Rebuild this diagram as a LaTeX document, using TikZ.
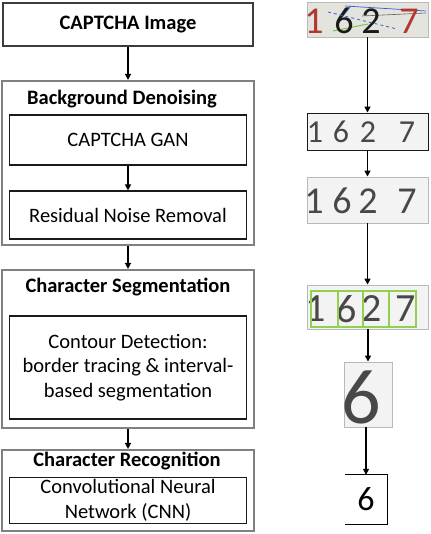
\documentclass[tikz,border=0pt]{standalone}
\usepackage{fontspec}
\setmainfont{Carlito}
\usetikzlibrary{arrows.meta,positioning}
\definecolor{ink}{HTML}{1A1A1A}
\definecolor{framegray}{HTML}{808080}
\definecolor{capbg}{HTML}{E4E4DE}
\definecolor{cleanbg}{HTML}{F3F3F3}
\definecolor{capred}{HTML}{B0382F}
\definecolor{noiseblue}{HTML}{3A5BD0}
\definecolor{noisegreen}{HTML}{7CC040}
\definecolor{segreen}{HTML}{92D050}
\tikzset{
  groupbox/.style={draw=framegray,line width=2.2pt,minimum width=252pt,inner sep=0pt},
  stagebox/.style={draw=ink!85,line width=1.6pt,minimum width=250pt,minimum height=43pt,
                   inner sep=0pt,font=\fontsize{20.5}{24.5}\selectfont\bfseries},
  stepbox/.style={draw=ink,line width=1.2pt,minimum width=237pt,align=center,
                  inner sep=2pt,font=\fontsize{20.5}{24.5}\selectfont},
  grouptitle/.style={inner sep=0pt,text height=14pt,text depth=4.5pt,
                     font=\fontsize{20.5}{24.5}\selectfont\bfseries},
  imgbox/.style={draw=gray!55,line width=0.9pt,fill=cleanbg,inner sep=0pt,minimum width=121pt},
  digit/.style={inner sep=0pt,text=ink!80},
  flowarr/.style={-{Triangle[length=6pt,width=6pt]},line width=1.8pt}
}

\begin{document}
\begin{tikzpicture}[x=1pt,y=-1pt]
  \useasboundingbox (0,0) rectangle (430,534);

  % left column: pipeline stages
  \node[stagebox] (img) at (128,24.5) {CAPTCHA Image};

  \node[groupbox,minimum height=164pt] (den) at (128,163) {};
  \node[grouptitle] (dentitle) at (122,100) {Background Denoising};
  \node[stepbox,minimum height=50pt] (gan) at (128,140) {CAPTCHA GAN};
  \node[stepbox,minimum height=48pt] (res) at (128,215) {Residual Noise Removal};

  \node[groupbox,minimum height=158pt] (seg) at (128,349) {};
  \node[grouptitle] (segtitle) at (128,288) {Character Segmentation};
  \node[stepbox,minimum height=103pt] (cont) at (128,367.5)
    {Contour Detection:\\border tracing \& interval-\\based segmentation};

  \node[groupbox,minimum height=81pt] (rec) at (128,490.5) {};
  \node[grouptitle] (rectitle) at (127,462) {Character Recognition};
  \node[stepbox,minimum height=45pt] (cnn) at (128,500.5)
    {Convolutional Neural\\Network (CNN)};

  \draw[flowarr] (img) -- (den);
  \draw[flowarr] (gan) -- (res);
  \draw[flowarr] (den) -- (seg);
  \draw[flowarr] (seg) -- (rec);

  % right column: example images
  \node[imgbox,fill=capbg,minimum height=35pt] (cap) at (367.5,19.5) {};
  \draw[noiseblue,line width=0.7pt] (345,6) -- (426,11);
  \draw[noiseblue,line width=0.7pt] (339,21) -- (351,6);
  \draw[ink!70,line width=0.6pt] (362,16) -- (426,13);
  \draw[noisegreen,line width=0.9pt] (333,31) -- (368,24);
  \foreach \d/\x/\c [count=\i] in {1/314/capred,6/344/ink,2/371/ink,7/409/capred}
    \node[digit,text=\c,font=\fontsize{38}{38}\selectfont] (cd\i) at (\x,21) {\d};
  \draw[noiseblue,line width=0.8pt,dashed] (328,12) -- (397,29);

  \node[imgbox,draw=ink,minimum height=37pt] (dn1) at (367.5,131.5) {};
  \foreach \d/\x [count=\i] in {1/315,6/341,2/368,7/407}
    \node[digit,font=\fontsize{32}{32}\selectfont] (ad\i) at (\x,132) {\d};

  \node[imgbox,minimum height=46pt] (dn2) at (367.5,200) {};
  \foreach \d/\x [count=\i] in {1/314,6/342,2/368,7/407}
    \node[digit,font=\fontsize{38}{38}\selectfont] (bd\i) at (\x,201) {\d};

  \node[imgbox,minimum height=44pt] (sg) at (367.5,307) {};
  \foreach \d/\x [count=\i] in {1/316,6/347,2/372,7/406}
    \node[digit,font=\fontsize{40}{40}\selectfont] (sd\i) at (\x,309) {\d};
  \draw[segreen,line width=1.2pt] (311,291) rectangle (416,327);
  \foreach \x in {338,363,389}
    \draw[segreen,line width=1.2pt] (\x,291) -- (\x,327);

  \node[imgbox,minimum width=48pt,minimum height=65pt] (crop) at (368,394.5) {};
  \node[digit,font=\fontsize{78}{78}\selectfont] (cropd) at (361,397) {6};

  \node[minimum width=42pt,minimum height=49pt,inner sep=0pt,
        font=\fontsize{34}{34}\selectfont] (fin) at (366,499.5) {6};
  \draw[line width=1.2pt] (fin.north west) -- (fin.north east)
    -- (fin.south east) -- (fin.south west);

  \draw[flowarr] (cap) -- (dn1);
  \draw[flowarr] (dn1) -- (dn2);
  \draw[flowarr] (dn2) -- (sg);
  \draw[flowarr] (sg.south -| crop.south) -- (crop.north);
  \draw[flowarr] (crop.south -| fin.north) -- (fin.north);
\end{tikzpicture}
\end{document}
